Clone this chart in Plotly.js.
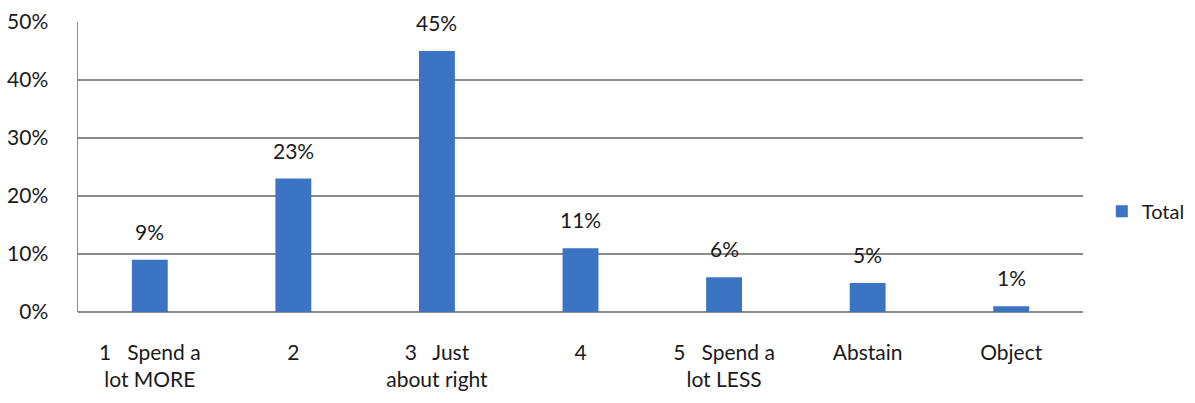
<!DOCTYPE html>
<html><head><meta charset="utf-8">
<script src="https://cdn.plot.ly/plotly-3.0.1.min.js"></script>
<style>html,body{margin:0;padding:0;background:#fff}#chart{width:1195px;height:403px}</style>
</head><body><div id="chart"></div>
<script>
const categories = ["1   Spend a<br>lot MORE", "2", "3   Just<br>about right", "4", "5   Spend a<br>lot LESS", "Abstain", "Object"];
const totalValues = [0.09, 0.23, 0.45, 0.11, 0.06, 0.05, 0.01];
const valueLabels = ["9%", "23%", "45%", "11%", "6%", "5%", "1%"];
const yTickVals = [0, 0.1, 0.2, 0.3, 0.4, 0.5];
const yTickText = ["0%", "10%", "20%", "30%", "40%", "50%"];

const font = {family: "Lato, Open Sans, sans-serif", size: 21, color: "#1a1a1a"};

const annotations = categories.map((c, i) => ({
  x: i, xref: "x", y: totalValues[i], text: valueLabels[i], showarrow: false,
  yanchor: "bottom", yshift: 14, font: font
}));

Plotly.newPlot("chart", [{
  type: "bar", name: "Total", x: categories, y: totalValues,
  marker: {color: "#3a74c2", line: {width: 0}},
  width: 0.25
}], {
  width: 1195, height: 403,
  margin: {l: 78, r: 112, t: 22, b: 91},
  paper_bgcolor: "#fff", plot_bgcolor: "#fff",
  font: font,
  showlegend: true,
  legend: {xref: "container", yref: "container", x: 0.922, xanchor: "left", y: 0.476, yanchor: "middle",
    font: {family: font.family, size: 20, color: "#1a1a1a"}, itemwidth: 30, borderwidth: 0, bgcolor: "rgba(0,0,0,0)"},
  xaxis: {type: "category", showgrid: false, showline: false, ticks: "", tickfont: font, zeroline: false, ticklabelstandoff: 26},
  yaxis: {range: [0, 0.5], tickvals: yTickVals, ticktext: yTickText, showgrid: true, gridcolor: "#8c8c8c", gridwidth: 1.5,
    showline: true, linecolor: "#8c8c8c", linewidth: 1.5, zeroline: true, zerolinecolor: "#8c8c8c", zerolinewidth: 1.5,
    tickfont: font, ticks: "", ticklen: 0, ticklabelstandoff: 24},
  annotations: annotations,
  bargap: 0.75
}, {displayModeBar: false, staticPlot: true});
</script></body></html>
